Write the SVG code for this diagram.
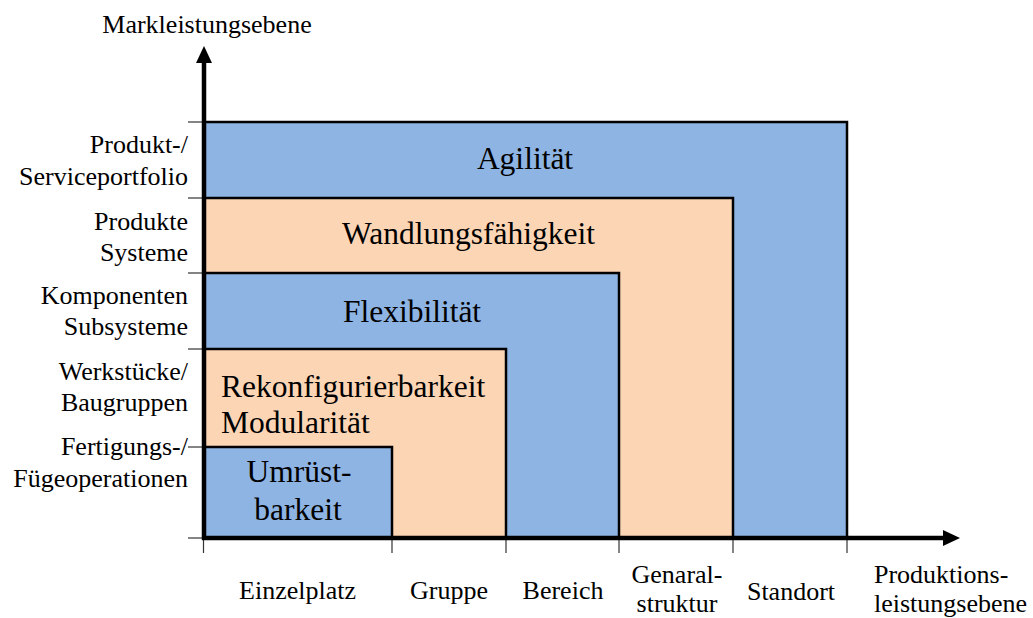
<svg xmlns="http://www.w3.org/2000/svg" width="1033" height="618" viewBox="0 0 1033 618">
  <style>
    text { font-family: "Liberation Serif", "DejaVu Serif", serif; fill: #000; }
    .lbl { font-size: 26px; }
    .big { font-size: 31.5px; }
    .blue { fill: #8EB4E3; stroke: #000; stroke-width: 2.5; }
    .peach { fill: #FCD5B5; stroke: #000; stroke-width: 2.5; }
    .tick { stroke: #333; stroke-width: 1.2; }
    .axis { stroke: #000; stroke-width: 4.5; fill: none; }
  </style>
  <defs>
    <marker id="arrow" markerUnits="userSpaceOnUse" markerWidth="17" markerHeight="16" refX="0" refY="8" orient="auto" viewBox="0 0 17 16">
      <path d="M0,0 L17,8 L0,16 z" fill="#000"/>
    </marker>
  </defs>
  <rect width="1033" height="618" fill="#fff"/>

  <!-- nested capability areas, largest first -->
  <g id="agilitaet">
    <rect class="blue" x="204" y="122" width="643" height="416"/>
    <text class="big" x="525" y="169" text-anchor="middle" font-family="Liberation Serif, DejaVu Serif, serif">Agilität</text>
  </g>
  <g id="wandlungsfaehigkeit">
    <rect class="peach" x="204" y="198" width="529" height="340"/>
    <text class="big" x="468.5" y="244" text-anchor="middle">Wandlungsfähigkeit</text>
  </g>
  <g id="flexibilitaet">
    <rect class="blue" x="204" y="273" width="415" height="265"/>
    <text class="big" x="412" y="322" text-anchor="middle">Flexibilität</text>
  </g>
  <g id="rekonfigurierbarkeit">
    <rect class="peach" x="204" y="349" width="302" height="189"/>
    <text class="big" x="221" y="397">Rekonfigurierbarkeit</text>
    <text class="big" x="221" y="433">Modularität</text>
  </g>
  <g id="umruestbarkeit">
    <rect class="blue" x="204" y="447" width="188" height="91"/>
    <text class="big" x="299" y="482" text-anchor="middle">Umrüst-</text>
    <text class="big" x="298" y="520" text-anchor="middle">barkeit</text>
  </g>

  <!-- axes, ticks and arrowheads -->
  <g id="connectors">
    <line class="tick" x1="188" y1="122" x2="204" y2="122"/>
    <line class="tick" x1="188" y1="198" x2="204" y2="198"/>
    <line class="tick" x1="188" y1="273" x2="204" y2="273"/>
    <line class="tick" x1="188" y1="349" x2="204" y2="349"/>
    <line class="tick" x1="188" y1="447" x2="204" y2="447"/>
    <line class="tick" x1="188" y1="538" x2="204" y2="538"/>
    <line class="tick" x1="203.5" y1="538" x2="203.5" y2="553"/>
    <line class="tick" x1="392" y1="538" x2="392" y2="553"/>
    <line class="tick" x1="506" y1="538" x2="506" y2="553"/>
    <line class="tick" x1="619" y1="538" x2="619" y2="553"/>
    <line class="tick" x1="733" y1="538" x2="733" y2="553"/>
    <line class="tick" x1="847" y1="538" x2="847" y2="553"/>
    <line class="axis" x1="204" y1="540" x2="204" y2="63" marker-end="url(#arrow)"/>
    <line class="axis" x1="202" y1="538" x2="943" y2="538" marker-end="url(#arrow)"/>
  </g>

  <!-- vertical axis labels -->
  <g id="y-labels">
    <text class="lbl" x="207" y="33" text-anchor="middle">Markleistungsebene</text>
    <text class="lbl" x="188" y="153" text-anchor="end">Produkt-/</text>
    <text class="lbl" x="188" y="185" text-anchor="end">Serviceportfolio</text>
    <text class="lbl" x="188" y="230" text-anchor="end">Produkte</text>
    <text class="lbl" x="188" y="261" text-anchor="end">Systeme</text>
    <text class="lbl" x="188" y="304" text-anchor="end">Komponenten</text>
    <text class="lbl" x="188" y="335" text-anchor="end">Subsysteme</text>
    <text class="lbl" x="188" y="380" text-anchor="end">Werkstücke/</text>
    <text class="lbl" x="188" y="411" text-anchor="end">Baugruppen</text>
    <text class="lbl" x="188" y="455" text-anchor="end">Fertigungs-/</text>
    <text class="lbl" x="188" y="487" text-anchor="end">Fügeoperationen</text>
  </g>

  <!-- horizontal axis labels -->
  <g id="x-labels">
    <text class="lbl" x="297.5" y="599" text-anchor="middle">Einzelplatz</text>
    <text class="lbl" x="449" y="599" text-anchor="middle">Gruppe</text>
    <text class="lbl" x="563" y="599" text-anchor="middle">Bereich</text>
    <text class="lbl" x="677" y="583" text-anchor="middle">Genaral-</text>
    <text class="lbl" x="677" y="612" text-anchor="middle">struktur</text>
    <text class="lbl" x="791" y="600" text-anchor="middle">Standort</text>
    <text class="lbl" x="874" y="583">Produktions-</text>
    <text class="lbl" x="874" y="612">leistungsebene</text>
  </g>
</svg>
